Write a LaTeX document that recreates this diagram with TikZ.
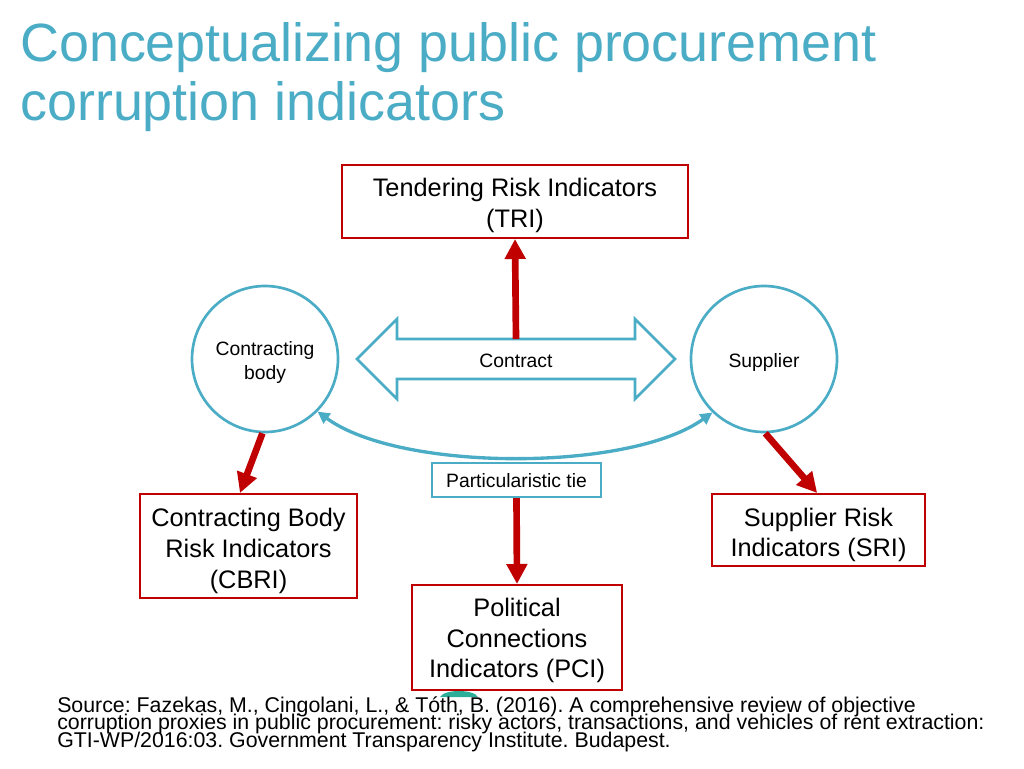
\documentclass[tikz,border=0pt]{standalone}
\usepackage{fontspec}
\setmainfont{Liberation Sans}
\usetikzlibrary{arrows.meta,calc}
\definecolor{teal}{HTML}{4BACC6}
\definecolor{myred}{HTML}{C00000}
\definecolor{blobteal}{HTML}{2EAE98}
\newcommand{\tightlines}{\lineskiplimit=-30pt\relax\lineskip=0pt\relax}
\tikzset{
  redbox/.style={draw=myred, line width=1.5pt, fill=white, inner sep=0pt},
  boxtext/.style={align=center, inner sep=0pt, font=\fontsize{19}{23}\selectfont},
  smalltext/.style={align=center, inner sep=0pt, font=\fontsize{14.5}{18}\selectfont},
  tealcircle/.style={draw=teal, line width=2pt, circle, fill=white, inner sep=0pt, minimum size=109.5pt},
  tealbox/.style={draw=teal, line width=1.8pt, fill=white, inner sep=0pt},
  redarrow/.style={draw=myred, line width=5pt, -{Triangle[length=15pt,width=15pt]}},
  tealarrow/.style={draw=teal, line width=2.5pt, {Triangle[length=9pt,width=9pt]}-{Triangle[length=9pt,width=9pt]}},
  footer/.style={anchor=north west, align=left, inner sep=0pt,
    font=\fontsize{16}{13}\selectfont\tightlines},
  titlestyle/.style={anchor=base west, inner sep=0pt, text=teal, font=\fontsize{40.4}{41}\selectfont},
}
\begin{document}
\frenchspacing
\begin{tikzpicture}[x=0.75pt,y=-0.75pt]
\useasboundingbox (0,0) rectangle (1024,768);
% title
\node[titlestyle] (t1) at (20,61) {Conceptualizing public procurement};
\node[titlestyle] (t2) at (20,120) {corruption indicators};

% double arrow (contract)
\draw[teal, line width=2pt, fill=white, line join=miter]
  (357,359) -- (397,319) -- (397,339) -- (635,339) -- (635,319) -- (675,359)
  -- (635,399) -- (635,379) -- (397,379) -- (397,399) -- cycle;
\node[smalltext] (contract) at (516,361) {Contract};
\coordinate (ctop) at (516,339);

% circles
\node[tealcircle] (cb) at (265,359) {};
\node[smalltext] (cbtext) at (265,362) {Contracting\\body};
\node[tealcircle] (sup) at (764,359) {};
\node[smalltext] (suptext) at (764,362) {Supplier};

% boxes
\node[redbox, minimum width=259.5pt, minimum height=54.75pt] (tri) at (515,201.5) {};
\node[boxtext] (tritext) at (515,205.5) {Tendering Risk Indicators\\(TRI)};
\node[redbox, minimum width=162.75pt, minimum height=78pt] (cbri) at (248.5,546) {};
\node[boxtext] (cbritext) at (248.5,551) {Contracting Body\\Risk Indicators\\(CBRI)};
\node[redbox, minimum width=159.75pt, minimum height=54pt] (sri) at (818.5,530) {};
\node[boxtext] (sritext) at (818.5,535) {Supplier Risk\\Indicators (SRI)};
\node[tealbox, minimum width=126.75pt, minimum height=25.5pt] (pt) at (516.5,480) {};
\node[smalltext] (pttext) at (516.5,481) {Particularistic tie};

% blob under PCI box
\fill[blobteal] (440,697) .. controls (444,689) and (474,689) .. (478,697) -- cycle;
\node[redbox, minimum width=157.5pt, minimum height=78.75pt] (pci) at (517,637.5) {};
\node[boxtext] (pcitext) at (517,640.5) {Political\\Connections\\Indicators (PCI)};

% connectors
\draw[redarrow] (ctop) -- (tri.south);
\draw[redarrow] (cb.-92) -- ([xshift=-6.4pt]cbri.north);
\draw[redarrow] (sup.-89) -- ([xshift=-1pt]sri.north);
\draw[redarrow] (pt.south) -- (pci.north);
\draw[tealarrow] (cb.-45) .. controls (400,472) and (630,472) .. (sup.-134);

% footer
\node[footer] (foot) at (57,696.5) {Source: Fazekas, M., Cingolani, L., \& Tóth, B. (2016). A comprehensive review of objective\\
corruption proxies in public procurement: risky actors, transactions, and vehicles of rent extraction:\\
GTI-WP/2016:03. Government Transparency Institute. Budapest.};
\end{tikzpicture}
\end{document}
